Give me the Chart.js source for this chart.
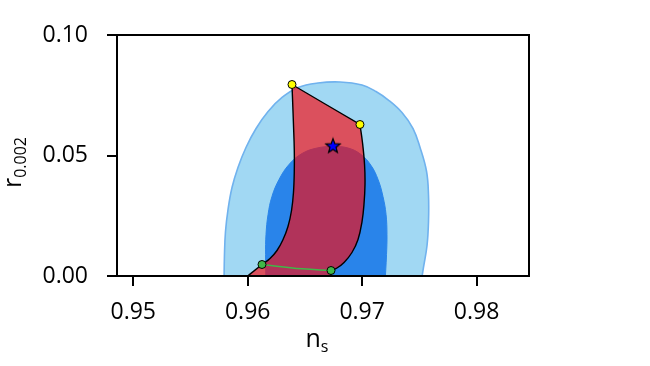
<!DOCTYPE html>
<html><head><meta charset="utf-8">
<script src="https://cdn.jsdelivr.net/npm/chart.js@4"></script>
<style>html,body{margin:0;padding:0;background:#fff;} #wrap{width:650px;height:366px;}</style>
</head><body><div id="wrap"><canvas id="c" width="650" height="366"></canvas></div>
<script>
// 95% contour (light blue)
const outerX = [0.95793, 0.95797, 0.95806, 0.95828, 0.95863, 0.95915, 0.95985, 0.96073, 0.96178, 0.96300, 0.96440, 0.96614, 0.96807, 0.96999, 0.97121, 0.97235, 0.97348, 0.97445, 0.97506, 0.97563, 0.97580, 0.97580, 0.97567, 0.97536, 0.97514];
const outerY = [-0.003, 0.00892, 0.01846, 0.02759, 0.03672, 0.04502, 0.05332, 0.06120, 0.06826, 0.07407, 0.07822, 0.08008, 0.08050, 0.07925, 0.07656, 0.07282, 0.06784, 0.06120, 0.05332, 0.04336, 0.03340, 0.02261, 0.01266, 0.00353, -0.003];
// 68% contour (dark blue)
const innerX = [0.96160, 0.96156, 0.96160, 0.96178, 0.96212, 0.96274, 0.96361, 0.96475, 0.96606, 0.96745, 0.96877, 0.96990, 0.97078, 0.97139, 0.97182, 0.97209, 0.97217, 0.97213, 0.97200];
const innerY = [-0.003, 0.00892, 0.01722, 0.02552, 0.03299, 0.04004, 0.04627, 0.05083, 0.05311, 0.05373, 0.05311, 0.05041, 0.04585, 0.04004, 0.03299, 0.02552, 0.01722, 0.00892, -0.003];
// model region (red); corner points repeated
const regionX = [0.96387, 0.96981, 0.96981, 0.97003, 0.97021, 0.97025, 0.97016, 0.96999, 0.96964, 0.96911, 0.96842, 0.96780, 0.96728, 0.96728, 0.96724, 0.96724, 0.95921, 0.95921, 0.96125, 0.96125, 0.96195, 0.96256, 0.96309, 0.96352, 0.96383, 0.96400, 0.96407, 0.96407, 0.96400, 0.96393, 0.96387];
const regionY = [0.07946, 0.06286, 0.06286, 0.05539, 0.04627, 0.03797, 0.02967, 0.02261, 0.01515, 0.00975, 0.00560, 0.00332, 0.00228, 0.00228, -0.003, -0.003, -0.003, -0.003, 0.00477, 0.00477, 0.00726, 0.01058, 0.01515, 0.02054, 0.02718, 0.03465, 0.04336, 0.05249, 0.06286, 0.07199, 0.07946];
// green line
const greenLineX = [0.96125, 0.96475, 0.96728];
const greenLineY = [0.00477, 0.00299, 0.00228];
// markers
const yellowX = [0.96387, 0.96981];
const yellowY = [0.07946, 0.06286];
const greenX = [0.96125, 0.96728];
const greenY = [0.00477, 0.00228];
const starX = [0.96745];
const starY = [0.05415];
// axes
const xTicks = [0.95, 0.96, 0.97, 0.98];
const yTicks = [0.00, 0.05, 0.10];
const xTitle = ['n', 's'];
const yTitle = ['r', '0.002'];

const pts = (xs, ys) => xs.map((x, i) => ({x: x, y: ys[i]}));

// filled star marker
const starImg = document.createElement('canvas');
starImg.width = 18; starImg.height = 18;
(function(){
  const g = starImg.getContext('2d');
  g.beginPath();
  for (let i = 0; i < 10; i++) {
    const r = i % 2 === 0 ? 7.5 : 3.2;
    const a = -Math.PI / 2 + i * Math.PI / 5;
    const px = 9 + r * Math.cos(a), py = 9.8 + r * Math.sin(a);
    if (i === 0) g.moveTo(px, py); else g.lineTo(px, py);
  }
  g.closePath();
  g.fillStyle = '#0000ff'; g.fill();
  g.lineWidth = 1.2; g.strokeStyle = '#000'; g.stroke();
})();

const FONT = '"Open Sans", "DejaVu Sans", sans-serif';

const framePlugin = {
  id: 'frame',
  afterDatasetsDraw(chart) {
    const {ctx, chartArea: a} = chart;
    ctx.save();
    ctx.strokeStyle = '#000'; ctx.lineWidth = 2;
    ctx.strokeRect(a.left, a.top, a.right - a.left, a.bottom - a.top);
    ctx.restore();
  }
};

const titlePlugin = {
  id: 'titles',
  afterDraw(chart) {
    const {ctx, chartArea: a} = chart;
    ctx.save();
    ctx.fillStyle = '#000';
    ctx.textBaseline = 'alphabetic';
    ctx.textAlign = 'left';
    const mainF = '25px ' + FONT, subF = '16px ' + FONT;
    // x title
    ctx.font = mainF;
    const w1 = ctx.measureText(xTitle[0]).width;
    ctx.font = subF;
    const w2 = ctx.measureText(xTitle[1]).width;
    const cx = (a.left + a.right) / 2 - 6;
    const x0 = cx - (w1 + w2) / 2;
    const by = a.bottom + 71;
    ctx.font = mainF;
    ctx.fillText(xTitle[0], x0, by);
    ctx.font = subF;
    ctx.fillText(xTitle[1], x0 + w1, by + 5);
    // y title
    ctx.font = mainF;
    const v1 = ctx.measureText(yTitle[0]).width;
    ctx.font = subF;
    const v2 = ctx.measureText(yTitle[1]).width;
    const cy = (a.top + a.bottom) / 2 + 7;
    ctx.translate(a.left - 96, cy + (v1 + v2) / 2);
    ctx.rotate(-Math.PI / 2);
    ctx.font = mainF;
    ctx.fillText(yTitle[0], 0, 0);
    ctx.font = subF;
    ctx.fillText(yTitle[1], v1, 5);
    ctx.restore();
  }
};

new Chart(document.getElementById('c'), {
  type: 'scatter',
  data: {
    datasets: [
      {data: pts(starX, starY), pointStyle: starImg, pointRadius: 8, showLine: false, order: 1, clip: false},
      {data: pts(yellowX, yellowY), pointStyle: 'circle', pointRadius: 4, pointBackgroundColor: '#ffff00', pointBorderColor: '#000', pointBorderWidth: 1, showLine: false, order: 2, clip: false},
      {data: pts(greenX, greenY), pointStyle: 'circle', pointRadius: 4, pointBackgroundColor: '#40b848', pointBorderColor: '#000', pointBorderWidth: 1, showLine: false, order: 3, clip: false},
      {data: pts(greenLineX, greenLineY), showLine: true, borderColor: '#40b848', borderWidth: 1.5, pointRadius: 0, tension: 0.4, order: 4},
      {data: pts(regionX, regionY), showLine: true, fill: 'shape', backgroundColor: 'rgba(250,8,12,0.65)', borderColor: '#000', borderWidth: 1.4, pointRadius: 0, tension: 0.4, order: 5},
      {data: pts(innerX, innerY), showLine: true, fill: 'shape', backgroundColor: '#2984ea', borderColor: '#2984ea', borderWidth: 1, pointRadius: 0, tension: 0.4, order: 6},
      {data: pts(outerX, outerY), showLine: true, fill: 'shape', backgroundColor: '#a1d8f3', borderColor: '#70b2ee', borderWidth: 1.6, pointRadius: 0, tension: 0.4, order: 7}
    ]
  },
  options: {
    responsive: false,
    animation: false,
    events: [],
    elements: {line: {capBezierPoints: false}},
    layout: {padding: {top: 35, right: 121, left: 0, bottom: 0}},
    plugins: {legend: {display: false}, tooltip: {enabled: false}},
    scales: {
      x: {
        type: 'linear', position: 'bottom', min: 0.94858, max: 0.98458,
        afterBuildTicks: s => { s.ticks = xTicks.map(v => ({value: v})); },
        afterFit: s => { s.height = 90; },
        ticks: {callback: v => Number(v).toFixed(2), color: '#000', font: {family: FONT, size: 23}, padding: 13, maxRotation: 0},
        grid: {drawOnChartArea: false, drawTicks: true, tickLength: 10, color: '#000', lineWidth: 2},
        border: {display: false}
      },
      y: {
        type: 'linear', position: 'left', min: 0, max: 0.10,
        afterBuildTicks: s => { s.ticks = yTicks.map(v => ({value: v})); },
        afterFit: s => { s.width = 117; },
        ticks: {callback: v => Number(v).toFixed(2), color: '#000', font: {family: FONT, size: 23}, padding: 19},
        grid: {drawOnChartArea: false, drawTicks: true, tickLength: 10, color: '#000', lineWidth: 2},
        border: {display: false}
      }
    }
  },
  plugins: [framePlugin, titlePlugin]
});
</script>
</body></html>
